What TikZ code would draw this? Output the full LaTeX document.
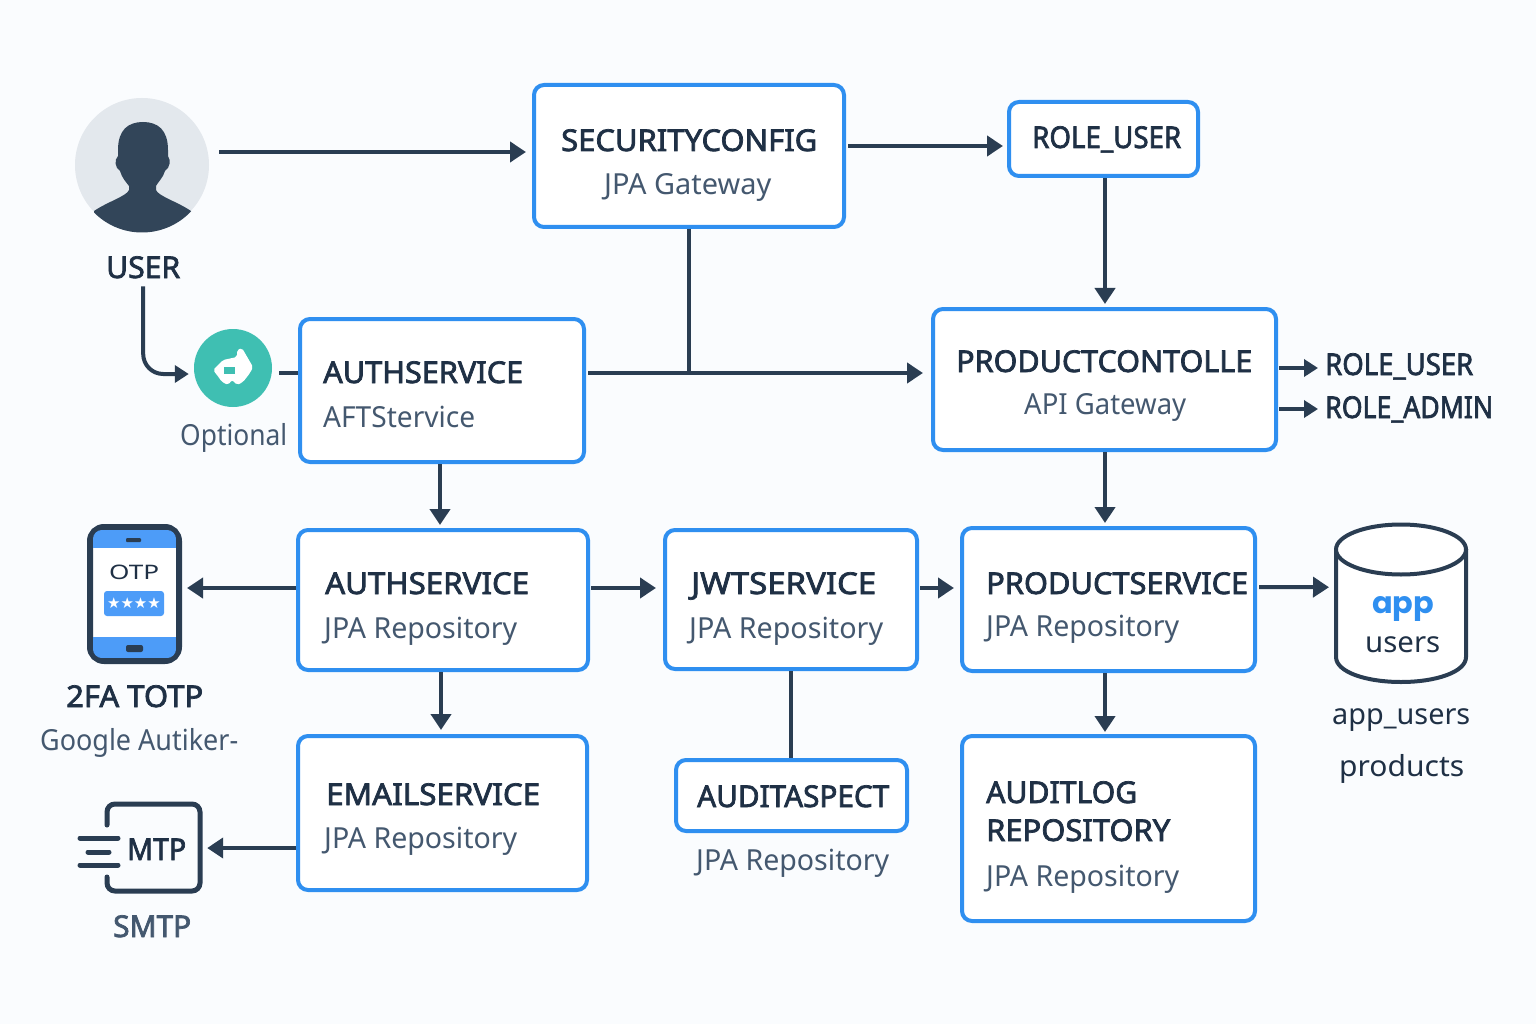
\documentclass[tikz,border=0pt]{standalone}
\usepackage{fontspec}
\usepackage{graphicx}
\setmainfont{Noto Sans}
\newfontfamily\ttlf[FakeBold=2.4]{Noto Sans}
\newfontfamily\djv{DejaVu Sans}
\newfontfamily\pop{Poppins}
\usetikzlibrary{arrows.meta,calc}
\definecolor{bgc}{HTML}{FAFCFE}
\definecolor{boxc}{HTML}{2F8FF0}
\definecolor{ink}{HTML}{2A3D52}
\definecolor{titlec}{HTML}{1F3045}
\definecolor{subc}{HTML}{44586F}
\definecolor{tealc}{HTML}{3FBFB2}
\definecolor{phoneblue}{HTML}{4D9CF8}
\definecolor{userbg}{HTML}{E3E8ED}
\definecolor{persc}{HTML}{324559}
\newcommand{\fitw}[2]{\resizebox{#1pt}{\height}{#2}}
\tikzset{
  boxn/.style={draw=boxc,line width=4pt,rounded corners=10pt,fill=white,inner sep=0pt},
  ttl/.style={anchor=base west,inner sep=0pt,text=titlec,font=\ttlf\fontsize{30}{30}\selectfont},
  sub/.style={anchor=base west,inner sep=0pt,text=subc,font=\fontsize{29}{29}\selectfont},
  captxt/.style={anchor=base west,inner sep=0pt,text=titlec,font=\fontsize{29}{29}\selectfont},
  conn/.style={draw=ink,line width=4pt},
  arr/.style={conn,-{Triangle[length=16pt,width=20pt]}},
  sarr/.style={conn,-{Triangle[length=14pt,width=17pt]}},
  iconline/.style={draw=ink,line width=5pt}
}
\newcommand{\bx}[5]{\node[boxn,minimum width=#4pt-#2pt-2pt,minimum height=#5pt-#3pt-2pt] (#1) at ({(#2+#4)/2},{(#3+#5)/2}) {};}
\begin{document}
\begin{tikzpicture}[x=1pt,y=-1pt]
\useasboundingbox (0,0) rectangle (1536,1024);
\fill[bgc] (0,0) rectangle (1536,1024);
% boxes
\bx{sec}{533}{84}{845}{228}
\bx{roleu}{1008}{101}{1199}{177}
\bx{pctl}{932}{308}{1277}{451}
\bx{authA}{299}{318}{585}{463}
\bx{authB}{297}{529}{589}{671}
\bx{jwt}{664}{529}{918}{670}
\bx{psvc}{961}{527}{1256}{672}
\bx{email}{297}{735}{588}{891}
\bx{aspect}{675}{759}{908}{832}
\bx{alog}{961}{735}{1256}{922}
% box text
\node[ttl] (t1) at (561,151) {\fitw{256}{SECURITYCONFIG}};
\node[sub] (s1) at (604,195) {\fitw{167}{JPA Gateway}};
\node[ttl] (t2) at (1032,148) {\fitw{149}{ROLE\_USER}};
\node[ttl] (t3) at (956,372) {\fitw{296}{PRODUCTCONTOLLE}};
\node[sub] (s3) at (1024,414) {\fitw{162}{API Gateway}};
\node[ttl] (t4) at (323,383) {\fitw{200}{AUTHSERVICE}};
\node[sub] (s4) at (323,427) {\fitw{152}{AFTStervice}};
\node[ttl] (t5) at (325,594) {\fitw{204}{AUTHSERVICE}};
\node[sub] (s5) at (324,638) {\fitw{193}{JPA Repository}};
\node[ttl] (t6) at (691,594) {\fitw{185}{JWTSERVICE}};
\node[sub] (s6) at (689,638) {\fitw{194}{JPA Repository}};
\node[ttl] (t7) at (986,594) {\fitw{262}{PRODUCTSERVICE}};
\node[sub] (s7) at (986,636) {\fitw{193}{JPA Repository}};
\node[ttl] (t8) at (326,805) {\fitw{214}{EMAILSERVICE}};
\node[sub] (s8) at (324,848) {\fitw{193}{JPA Repository}};
\node[ttl] (t9) at (697,807) {\fitw{192}{AUDITASPECT}};
\node[sub] (s9) at (696,870) {\fitw{193}{JPA Repository}};
\node[ttl] (t10) at (986,803) {\fitw{151}{AUDITLOG}};
\node[ttl] (t11) at (986,841) {\fitw{184}{REPOSITORY}};
\node[sub] (s10) at (986,886) {\fitw{193}{JPA Repository}};
% user icon
\node[circle,fill=userbg,minimum size=134pt,inner sep=0pt] (ucirc) at (142,165) {};
\begin{scope}
\clip (142,165) circle (67.5);
\fill[persc] (118,150) .. controls (118,130) and (128,122) .. (143,122)
  .. controls (158,122) and (168,130) .. (168,150) -- (168,156)
  .. controls (171,160) and (170,168) .. (165,171)
  .. controls (163,178) and (158,182) .. (156,186) -- (156,190)
  .. controls (158,196) and (178,202) .. (191,211) -- (191,240) -- (94,240) -- (94,211)
  .. controls (107,202) and (127,196) .. (129,190) -- (129,186)
  .. controls (126,182) and (122,178) .. (120,171)
  .. controls (115,168) and (114,160) .. (118,156) -- cycle;
\end{scope}
\node[ttl] (ulabel) at (106,278) {\fitw{74}{USER}};
% optional icon
\node[circle,fill=tealc,minimum size=78pt,inner sep=0pt] (opt) at (233,368) {};
\fill[white,rounded corners=2pt] (213,370) -- (223,360) -- (237,357) -- (237,350) -- (242,348) -- (253,367) -- (250,373) -- (243,382) -- (237,385) -- (232,380) -- (228,385) -- (222,382) -- (217,375) -- cycle;
\fill[tealc] (224,367) rectangle (235,374);
\node[sub] (optl) at (180,445) {\fitw{107}{Optional}};
% phone
\node[draw=ink,line width=6pt,rounded corners=14pt,fill=white,minimum width=89pt,minimum height=134pt,inner sep=0pt] (phone) at (134.5,594) {};
\begin{scope}
\clip[rounded corners=9pt] (93,530) rectangle (176,658);
\fill[phoneblue] (93,530) rectangle (176,548);
\fill[phoneblue] (93,637) rectangle (176,658);
\end{scope}
\fill[ink,rounded corners=1pt] (126,538) rectangle (141,542);
\fill[ink,rounded corners=2pt] (126,645) rectangle (143,652);
\node[anchor=base west,inner sep=0pt,text=titlec,font=\fontsize{20}{20}\selectfont] (otp) at (109,579) {\fitw{50}{OTP}};
\node[fill=phoneblue,rounded corners=3pt,minimum width=60pt,minimum height=25pt,inner sep=0pt,text=white,font=\djv\fontsize{15}{15}\selectfont] (pill) at (134,603.5) {★★★★};
\node[ttl] (tfa) at (66,707) {\fitw{137}{2FA TOTP}};
\node[sub] (gauth) at (40,750) {\fitw{198}{Google Autiker-}};
% smtp icon
\node[minimum width=97pt,minimum height=91pt,inner sep=0pt] (smtpn) at (153.5,847.5) {};
\draw[iconline,line cap=round,rounded corners=8pt] (107,825) -- (107,804) -- (200,804) -- (200,891) -- (107,891) -- (107,877);
\draw[iconline,line cap=round] (80,838) -- (118,838);
\draw[iconline,line cap=round] (88,852) -- (109,852);
\draw[iconline,line cap=round] (80,865) -- (118,865);
\node[ttl] (mtp) at (127,860) {\fitw{59}{MTP}};
\node[ttl,text=subc] (smtpl) at (113,937) {\fitw{78}{SMTP}};
% database
\filldraw[fill=white,draw=ink,line width=4pt] (1336,549) -- (1336,657) .. controls (1336,672) and (1366,682) .. (1401,682) .. controls (1436,682) and (1466,672) .. (1466,657) -- (1466,549);
\draw[ink,line width=4pt,fill=white] (1401,549.5) ellipse (65 and 25);
\node[inner sep=0pt,minimum width=132pt,minimum height=158pt,anchor=north west] (db) at (1335,525) {};
\node[anchor=base west,inner sep=0pt,text=boxc,font=\pop\fontsize{30}{30}\selectfont\bfseries] (dbapp) at (1372,613) {\fitw{62}{app}};
\node[captxt] (dbusers) at (1365,652) {\fitw{75}{users}};
\node[captxt] (tbl1) at (1332,724) {\fitw{138}{app\_users}};
\node[captxt] (tbl2) at (1339,776) {\fitw{125}{products}};
% role labels
\node[ttl] (ru) at (1325,375) {\fitw{148}{ROLE\_USER}};
\node[ttl] (ra) at (1325,418) {\fitw{168}{ROLE\_ADMIN}};
% connectors
\coordinate (junc) at ($(sec.south |- authA.east)+(0,-17.5)$);
\draw[arr] ([shift={(10pt,13pt)}]ucirc.east) -- ([shift={(-6pt,4pt)}]sec.west);
\draw[arr] ([shift={(2pt,10pt)}]sec.east) -- ([shift={(-4pt,-7pt)}]roleu.west);
\draw[arr] ([xshift=1.5pt]roleu.south) -- ([shift={(0.5pt,3pt)}]pctl.north);
\draw[conn] (sec.south) -- (junc);
\draw[arr] ([shift={(2pt,17.5pt)}]authA.east) -- ([shift={(-8pt,6.5pt)}]pctl.west);
\draw[sarr,rounded corners=20pt] ([yshift=-8pt]ulabel.south) |- ([shift={(-5pt,-6pt)}]opt.west);
\draw[conn] ([shift={(7pt,-5pt)}]opt.east) -- ([yshift=17.5pt]authA.west);
\draw[arr] ([xshift=-2pt]authA.south) -- ([shift={(-3pt,3pt)}]authB.north);
\draw[arr] ([yshift=12pt]authB.west) -- ([shift={(5pt,6pt)}]phone.east);
\draw[arr] ([shift={(1pt,12pt)}]authB.east) -- ([shift={(-7pt,11.5pt)}]jwt.west);
\draw[arr] ([shift={(1pt,11.5pt)}]jwt.east) -- ([shift={(-6pt,11.5pt)}]psvc.west);
\draw[arr] ([shift={(2pt,12.5pt)}]psvc.east) -- ([shift={(-6pt,17pt)}]db.west);
\draw[arr] ([xshift=0.5pt]pctl.south) -- ([shift={(-3.5pt,3pt)}]psvc.north);
\draw[arr] ([xshift=-2pt]authB.south) -- ([shift={(-1.5pt,4pt)}]email.north);
\draw[arr] ([yshift=-35pt]email.west) -- ([shift={(5pt,-0.5pt)}]smtpn.east);
\draw[conn] (jwt.south) -- ([xshift=-0.5pt]aspect.north);
\draw[arr] ([xshift=-3.5pt]psvc.south) -- ([shift={(-3.5pt,2pt)}]alog.north);
\draw[sarr] ([shift={(1pt,11.5pt)}]pctl.east) -- ($(pctl.east -| ru.west)+(-7,-11.5)$);
\draw[sarr] ([shift={(1pt,-29.5pt)}]pctl.east) -- ($(pctl.east -| ra.west)+(-7,29.5)$);
\end{tikzpicture}
\end{document}
